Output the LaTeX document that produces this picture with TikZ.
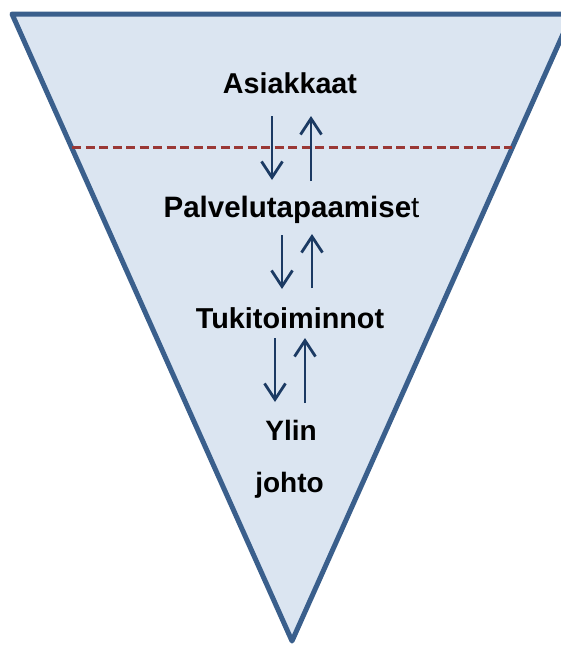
\documentclass[tikz,border=0pt]{standalone}
\usepackage{fontspec}
\setmainfont{Liberation Sans}
\usetikzlibrary{arrows.meta}
\definecolor{funnelfill}{HTML}{DBE5F1}
\definecolor{funneledge}{HTML}{3A5F8C}
\definecolor{cutline}{HTML}{9A3836}
\definecolor{flow}{HTML}{1B3A63}
\tikzset{
  label/.style={anchor=base, inner sep=0pt, font=\bfseries},
  flowarrow/.style={draw=flow, line width=2.8pt, -{Straight Barb[length=16pt,width=21pt,line width=2.8pt]}},
}
\begin{document}
\begin{tikzpicture}[x=1pt,y=-1pt]
\useasboundingbox (0,0) rectangle (561,645);
\begin{scope}
\clip (0,0) rectangle (561,645);
% inverted triangle
\coordinate (tl) at (12,14);
\coordinate (tr) at (572,14);
\coordinate (ap) at (292,641);
\draw[fill=funnelfill, draw=funneledge, line width=5pt, line join=round] (tl) -- (tr) -- (ap) -- cycle;
\end{scope}
% dividing line
\coordinate (dl) at (72,147);
\coordinate (dr) at (512,147);
\draw[cutline, line width=3pt, dash pattern=on 9pt off 4.5pt] (dl) -- (dr);
% level labels
\node[label, font=\fontsize{28.7}{30}\selectfont\bfseries] (asiakkaat) at (290,93) {Asiakkaat};
\node[label, font=\fontsize{29.5}{31}\selectfont\bfseries] (palvelu) at (291.5,217) {Palvelutapaamise{\mdseries t}};
\node[label, font=\fontsize{28.8}{30}\selectfont\bfseries] (tuki) at (290,328) {Tukitoiminnot};
\node[label, font=\fontsize{28}{30}\selectfont\bfseries] (ylin) at (291,440) {Ylin};
\node[label, font=\fontsize{28}{30}\selectfont\bfseries] (johto) at (289.5,492) {johto};
% arrow end points
\coordinate (a1s) at (272,116); \coordinate (a1e) at (272,180);
\coordinate (b1s) at (311,181); \coordinate (b1e) at (311,116);
\coordinate (a2s) at (282,235); \coordinate (a2e) at (282,289);
\coordinate (b2s) at (312,288); \coordinate (b2e) at (312,234);
\coordinate (a3s) at (275,338); \coordinate (a3e) at (275,402);
\coordinate (b3s) at (305,403); \coordinate (b3e) at (305,338);
\draw[flowarrow] (a1s) -- (a1e);
\draw[flowarrow] (b1s) -- (b1e);
\draw[flowarrow] (a2s) -- (a2e);
\draw[flowarrow] (b2s) -- (b2e);
\draw[flowarrow] (a3s) -- (a3e);
\draw[flowarrow] (b3s) -- (b3e);
\end{tikzpicture}
\end{document}
